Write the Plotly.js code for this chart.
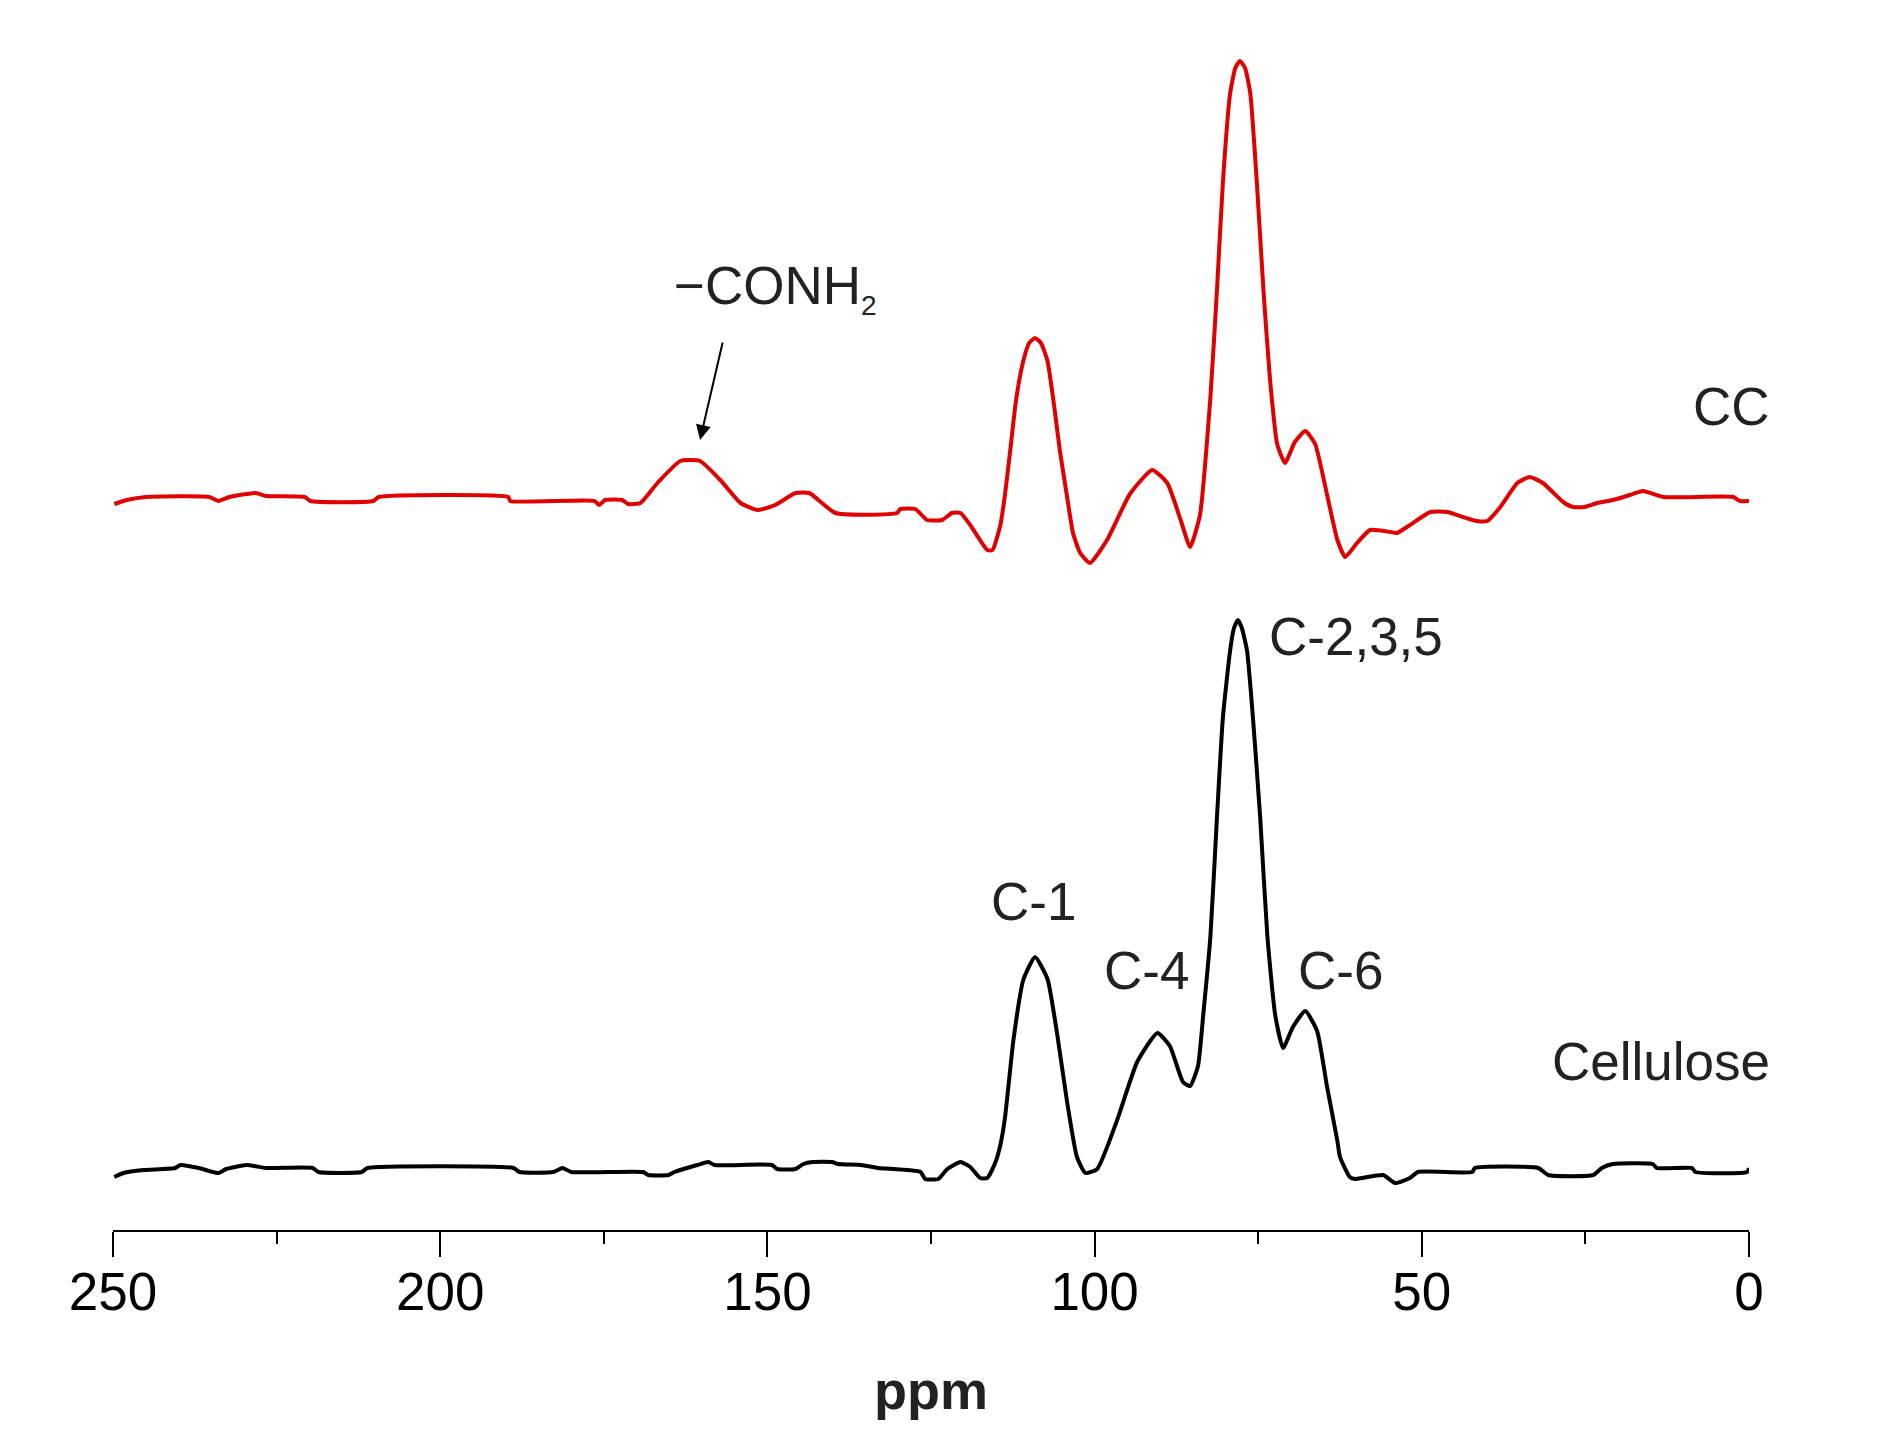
<!DOCTYPE html>
<html>
<head>
<meta charset="utf-8">
<script src="https://cdn.plot.ly/plotly-3.0.1.min.js"></script>
<style>html,body{margin:0;padding:0;background:#fff;}#chart{width:1898px;height:1454px;}</style>
</head>
<body>
<div id="chart"></div>
<script>
// Chemical shift (ppm) and intensity (a.u.)
const celluloseShift = [249.8, 248.4, 245.3, 240.5, 239.7, 236.9, 233.9, 232.7, 229.6, 226.6, 219.5, 218.6, 212.0, 211.1, 188.8, 187.9, 182.7, 181.3, 180.0, 169.0, 168.2, 165.1, 164.2, 160.7, 159.0, 158.1, 149.3, 148.5, 145.7, 144.5, 143.1, 140.1, 139.2, 135.7, 133.1, 126.6, 125.9, 123.9, 122.5, 120.5, 119.0, 117.5, 116.4, 115.2, 114.4, 113.7, 112.4, 110.9, 109.1, 107.2, 105.7, 104.2, 102.7, 101.4, 99.6, 96.6, 93.5, 90.4, 88.5, 86.5, 85.4, 84.2, 83.4, 82.3, 81.3, 80.4, 79.3, 78.7, 78.1, 77.5, 76.7, 75.8, 74.7, 73.6, 72.4, 71.2, 69.7, 67.8, 66.0, 64.5, 62.9, 62.5, 61.0, 60.2, 55.9, 54.1, 51.8, 50.6, 42.3, 41.9, 32.2, 30.7, 23.8, 22.5, 20.8, 14.7, 14.1, 8.7, 8.2, 0.3, 0.0];
const celluloseIntensity = [-5, -1, 2, 4, 7, 4, -1, 3, 7, 4, 4, 0, 0, 4, 4, 0, 0, 4, 0, 0, -3, -3, 0, 7, 10, 7, 7, 3, 3, 8, 10, 10, 8, 7, 4, 0, -7, -7, 3, 10, 5, -6, -6, 9, 27, 54, 132, 192, 215, 193, 137, 70, 15, -1, 3, 51, 110, 139, 126, 90, 86, 106, 157, 236, 355, 454, 521, 544, 552, 544, 521, 454, 355, 236, 157, 124, 145, 161, 141, 86, 31, 15, -5, -7, -3, -11, -6, 0, 0, 4, 4, -3, -3, 4, 8, 8, 4, 4, 0, 0, 4];

const ccShift = [249.8, 247.9, 244.9, 235.3, 233.9, 232.2, 228.2, 226.6, 220.7, 219.8, 210.2, 209.4, 189.6, 189.3, 176.4, 175.7, 174.8, 172.2, 171.3, 169.4, 166.8, 163.3, 160.3, 157.2, 154.1, 151.5, 148.8, 145.7, 143.6, 139.6, 130.2, 129.7, 127.4, 125.6, 123.3, 121.8, 120.5, 119.0, 116.4, 115.6, 114.4, 113.7, 112.9, 112.0, 110.9, 110.0, 109.1, 108.2, 107.2, 106.2, 105.3, 104.2, 103.3, 102.2, 100.7, 98.1, 94.6, 91.2, 88.9, 86.9, 85.4, 83.9, 82.3, 81.3, 80.4, 79.3, 78.5, 77.8, 77.0, 76.2, 75.2, 74.2, 73.2, 72.1, 70.9, 69.4, 67.8, 66.3, 64.5, 62.9, 61.7, 59.9, 57.9, 54.8, 53.8, 51.8, 48.7, 46.1, 43.7, 41.6, 40.0, 38.0, 35.4, 33.5, 31.5, 28.4, 26.9, 25.1, 23.2, 20.8, 18.2, 16.2, 13.1, 2.4, 1.4, 0.0];
const ccIntensity = [-4, 0, 3, 3, -1, 3, 7, 4, 3, -1, -1, 3, 3, -1, -1, -5, 0, 0, -4, -3, 17, 39, 39, 20, -3, -10, -5, 7, 7, -13, -13, -9, -9, -20, -20, -13, -13, -25, -50, -50, -25, 5, 49, 100, 139, 157, 162, 157, 139, 95, 49, 3, -33, -53, -63, -40, 6, 30, 17, -19, -47, -15, 103, 210, 317, 406, 432, 439, 432, 406, 317, 210, 121, 56, 37, 58, 69, 56, 6, -40, -57, -43, -30, -32, -33, -25, -12, -12, -17, -21, -21, -7, 17, 23, 17, -2, -7, -7, -3, 0, 5, 9, 3, 3, -1, -1];

const seriesNames = ["Cellulose", "CC"];
const tickValues = [250, 200, 150, 100, 50, 0];
const minorTickValues = [225, 175, 125, 75, 25];
const peakLabels = ["C-1", "C-4", "C-2,3,5", "C-6"];

// vertical stacking offsets (presentation only)
const celluloseOffset = 58;
const ccOffset = 730;

const FONT = "Liberation Sans, Arial, Helvetica, sans-serif";

const traces = [
  {
    x: celluloseShift,
    y: celluloseIntensity.map(v => v + celluloseOffset),
    type: "scatter", mode: "lines", name: seriesNames[0],
    line: {color: "#000000", width: 4, shape: "spline", smoothing: 0.5}
  },
  {
    x: ccShift,
    y: ccIntensity.map(v => v + ccOffset),
    type: "scatter", mode: "lines", name: seriesNames[1],
    line: {color: "#e00000", width: 4, shape: "spline", smoothing: 0.5}
  }
];

const txt = (text, x, y) => ({
  text: text, x: x, y: y, xref: "x", yref: "y",
  showarrow: false, xanchor: "center", yanchor: "middle",
  font: {family: FONT, size: 53, color: "#222222"}
});

const annotations = [
  txt("\u2212CONH<sub><span style='font-size:28px'>2</span></sub>", 148.8, 942),
  {
    text: "", x: 160.3, y: 790, xref: "x", yref: "y",
    showarrow: true, ax: 23, ay: -99, axref: "pixel", ayref: "pixel",
    arrowhead: 2, arrowsize: 1.5, arrowwidth: 2, arrowcolor: "#000000"
  },
  txt(seriesNames[1], 2.7, 824),
  txt(seriesNames[0], 13.4, 169),
  txt(peakLabels[0], 109.4, 329),
  txt(peakLabels[1], 92.0, 260),
  txt(peakLabels[2], 60.0, 594),
  txt(peakLabels[3], 62.5, 260)
];

const layout = {
  width: 1898, height: 1454,
  margin: {l: 113, r: 149, t: 20, b: 224},
  paper_bgcolor: "#ffffff", plot_bgcolor: "#ffffff",
  showlegend: false,
  font: {family: FONT, color: "#000000"},
  xaxis: {
    range: [250, 0],
    tickmode: "array", tickvals: tickValues, ticktext: tickValues.map(String),
    ticks: "outside", ticklen: 25, tickwidth: 2, tickcolor: "#000000",
    ticklabelstandoff: -11,
    minor: {tickmode: "array", tickvals: minorTickValues, ticks: "outside", ticklen: 12, tickwidth: 2, tickcolor: "#000000", showgrid: false},
    showline: true, linecolor: "#000000", linewidth: 2, mirror: false,
    showgrid: false, zeroline: false,
    tickfont: {family: FONT, size: 53, color: "#000000"},
    title: {text: "<b>ppm</b>", font: {family: FONT, size: 54, color: "#222222"}, standoff: 52}
  },
  yaxis: {
    range: [0, 1210], visible: false, showgrid: false, zeroline: false, fixedrange: true
  },
  annotations: annotations
};

Plotly.newPlot("chart", traces, layout, {staticPlot: true, displayModeBar: false});
</script>
</body>
</html>
